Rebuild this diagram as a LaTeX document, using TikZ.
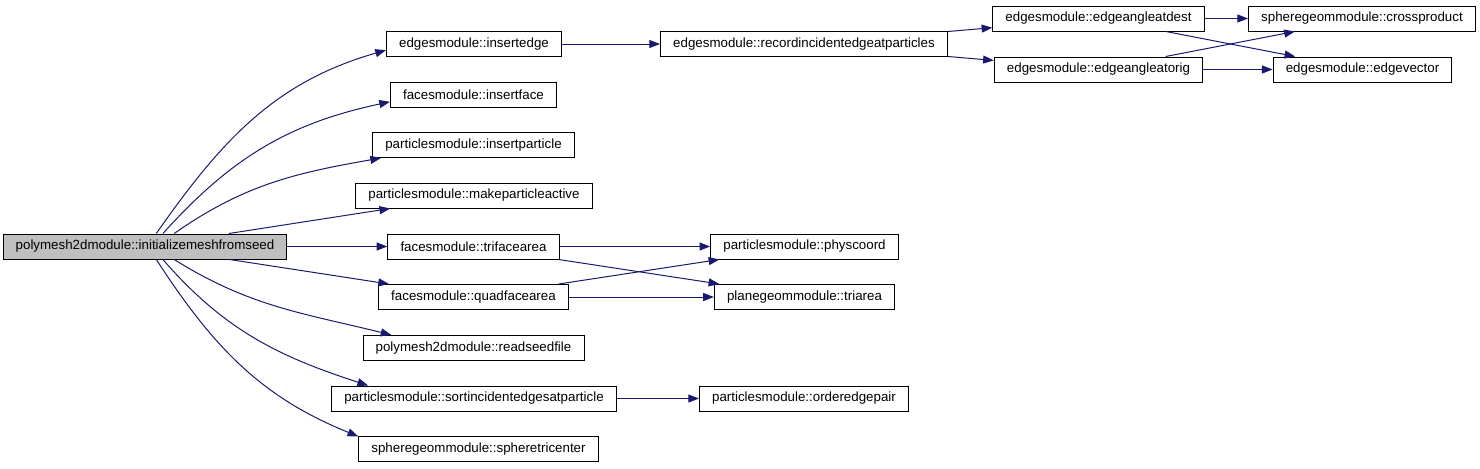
\documentclass[tikz,border=0pt]{standalone}
\usepackage{fontspec}
\setmainfont{Liberation Sans}
\usetikzlibrary{arrows.meta}
\definecolor{edgeblue}{HTML}{191970}
\definecolor{rootgray}{HTML}{BFBFBF}
\begin{document}
\begin{tikzpicture}[x=0.75pt, y=-0.75pt]
\useasboundingbox (0,0) rectangle (1480,468);
\begin{scope}[every node/.style = {rectangle, draw, line width=0.75pt, inner xsep=9.5pt, inner ysep=0pt, minimum height=18.75pt, font=\fontsize{10}{12}\selectfont}]
\node[fill=rootgray] (root) at (145, 246.5) {polymesh2dmodule::initializemeshfromseed};
\node (insedge) at (474, 44) {edgesmodule::insertedge};
\node (insface) at (473.5, 94.5) {facesmodule::insertface};
\node (inspart) at (473.5, 145) {particlesmodule::insertparticle};
\node (mkactive) at (474, 195.5) {particlesmodule::makeparticleactive};
\node (triface) at (473.5, 246.5) {facesmodule::trifacearea};
\node (quadface) at (473.5, 297) {facesmodule::quadfacearea};
\node (readseed) at (473.5, 348) {polymesh2dmodule::readseedfile};
\node (sortinc) at (474, 398.5) {particlesmodule::sortincidentedgesatparticle};
\node (sphcenter) at (478.5, 449) {spheregeommodule::spheretricenter};
\node (recinc) at (804, 44) {edgesmodule::recordincidentedgeatparticles};
\node (physc) at (804.5, 246.5) {particlesmodule::physcoord};
\node (triarea) at (804.5, 297) {planegeommodule::triarea};
\node (ordpair) at (804, 398.5) {particlesmodule::orderedgepair};
\node (angdest) at (1098.5, 18.5) {edgesmodule::edgeangleatdest};
\node (angorig) at (1098.5, 69.5) {edgesmodule::edgeangleatorig};
\node (cross) at (1362, 18.5) {spheregeommodule::crossproduct};
\node (edgevec) at (1362.5, 69.5) {edgesmodule::edgevector};
\end{scope}
\begin{scope}[every edge/.style = {draw, edgeblue, line width=0.75pt, -{Triangle[length=8pt, width=6pt]}}]
\path (root.49) edge[out=55, in=196] (insedge.184);
\path (root.36) edge[out=48, in=192] (insface.185);
\path (root.24) edge[out=35, in=190] (inspart.188);
\path (root) edge (mkactive);
\path (root) edge (triface);
\path (root) edge (quadface);
\path (root.-24) edge[out=-32, in=166] (readseed.171);
\path (root.-36) edge[out=-49, in=162] (sortinc.173);
\path (root.-49) edge[out=-57, in=158] (sphcenter.174);
\path (insedge) edge (recinc);
\path (recinc) edge (angdest);
\path (recinc) edge (angorig);
\path (angdest) edge (cross);
\path (angdest) edge (edgevec);
\path (angorig) edge (cross);
\path (angorig) edge (edgevec);
\path (triface) edge (physc);
\path (triface) edge (triarea);
\path (quadface) edge (physc);
\path (quadface) edge (triarea);
\path (sortinc) edge (ordpair);
\end{scope}
\end{tikzpicture}
\end{document}
